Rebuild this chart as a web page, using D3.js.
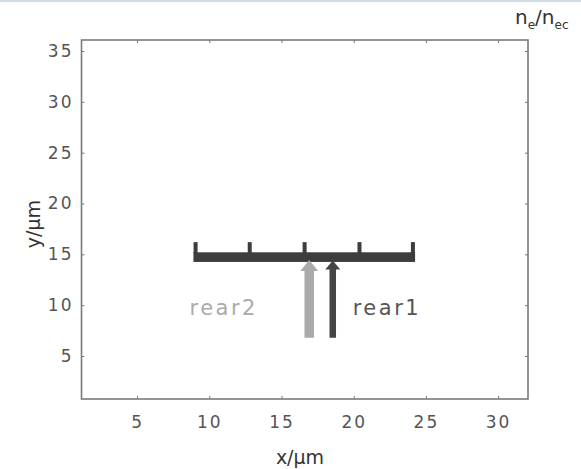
<!DOCTYPE html>
<html>
<head>
<meta charset="utf-8">
<script src="https://cdn.jsdelivr.net/npm/d3@7"></script>
<style>
  body { margin: 0; background: #fff; }
  text { font-family: "DejaVu Sans", sans-serif; }
</style>
</head>
<body>
<div id="chart"></div>
<script>
// Data
var xTicks = [5, 10, 15, 20, 25, 30];
var yTicks = [5, 10, 15, 20, 25, 30, 35];
var xDomain = [1.15, 32.07];
var yDomain = [0.77, 36.08];

// T-shaped target: horizontal bar plus small posts on top
var targetPosts = [9.05, 12.8, 16.6, 20.4, 24.1];
var targetBarX = [8.9, 24.25];
var targetBarY = [14.25, 15.2];
var targetPostTop = 16.2;

// incoming arrows
var rearNames = ["rear2", "rear1"];
var rearX = [16.92, 18.55];
var rearY0 = [6.8, 6.8];
var rearY1 = [14.45, 14.4];
var rearLabelX = [11.0, 22.3];
var rearLabelY = [9.8, 9.8];

var svgWidth = 581;
var svgHeight = 469;
var margin = { top: 40, right: 53, bottom: 70, left: 81.5 };
var width = svgWidth - margin.left - margin.right;
var height = svgHeight - margin.top - margin.bottom;

var svg = d3.select("#chart").append("svg")
  .attr("width", svgWidth)
  .attr("height", svgHeight);

// thin blue strip at top of the figure
svg.append("rect")
  .attr("x", 0).attr("y", 0)
  .attr("width", svgWidth).attr("height", 2)
  .attr("fill", "#c9dcea");

var chartGroup = svg.append("g")
  .attr("transform", `translate(${margin.left}, ${margin.top})`);

var x = d3.scaleLinear().domain(xDomain).range([0, width]);
var y = d3.scaleLinear().domain(yDomain).range([height, 0]);

// axes, ticks pointing inwards on all four sides
var axisColor = "#7a7a7a";
var labelColor = "#555555";

function styleAxis(g) {
  g.select(".domain").remove();
  g.selectAll(".tick line").attr("stroke", axisColor).attr("stroke-width", 1);
  g.selectAll(".tick text")
    .attr("fill", labelColor)
    .attr("font-size", "17px")
    .attr("letter-spacing", "2px");
}

chartGroup.append("g")
  .attr("transform", `translate(0, ${height})`)
  .call(d3.axisBottom(x).tickValues(xTicks).tickSizeInner(-3).tickSizeOuter(0).tickPadding(17))
  .call(styleAxis);

chartGroup.append("g")
  .call(d3.axisLeft(y).tickValues(yTicks).tickSizeInner(-3).tickSizeOuter(0).tickPadding(8))
  .call(styleAxis);

chartGroup.append("g")
  .call(d3.axisTop(x).tickValues(xTicks).tickSizeInner(-3).tickSizeOuter(0).tickFormat(""))
  .call(styleAxis);

chartGroup.append("g")
  .attr("transform", `translate(${width}, 0)`)
  .call(d3.axisRight(y).tickValues(yTicks).tickSizeInner(-3).tickSizeOuter(0).tickFormat(""))
  .call(styleAxis);

chartGroup.append("rect")
  .attr("x", 0).attr("y", 0)
  .attr("width", width).attr("height", height)
  .attr("fill", "none")
  .attr("stroke", axisColor)
  .attr("stroke-width", 1.6);

// target bar
var targetColor = "#3d3d3d";
chartGroup.append("rect")
  .attr("x", x(targetBarX[0]))
  .attr("y", y(targetBarY[1]))
  .attr("width", x(targetBarX[1]) - x(targetBarX[0]))
  .attr("height", y(targetBarY[0]) - y(targetBarY[1]))
  .attr("fill", targetColor);

chartGroup.selectAll(".post")
  .data(targetPosts)
  .enter()
  .append("rect")
  .attr("class", "post")
  .attr("x", d => x(d) - 2)
  .attr("y", y(targetPostTop))
  .attr("width", 4)
  .attr("height", y(targetBarY[1]) - y(targetPostTop) + 1)
  .attr("fill", targetColor);

// arrows
var arrowColors = ["#ababab", "#444444"];
var shaftW = [9.5, 6.5];
var headW = [18, 15];
var headH = [11, 9];

rearNames.forEach(function (name, i) {
  var cx = x(rearX[i]);
  var yb = y(rearY0[i]);
  var yt = y(rearY1[i]);
  var s = shaftW[i] / 2;
  var h = headW[i] / 2;
  var pts = [
    [cx - s, yb], [cx - s, yt + headH[i]], [cx - h, yt + headH[i]],
    [cx, yt], [cx + h, yt + headH[i]], [cx + s, yt + headH[i]], [cx + s, yb]
  ];
  chartGroup.append("path")
    .attr("d", d3.line()(pts) + "Z")
    .attr("fill", arrowColors[i]);

  chartGroup.append("text")
    .attr("x", x(rearLabelX[i]))
    .attr("y", y(rearLabelY[i]))
    .attr("dy", "0.36em")
    .attr("text-anchor", "middle")
    .attr("font-size", "21px")
    .attr("letter-spacing", "2.5px")
    .attr("fill", i === 0 ? "#aaaaaa" : "#555555")
    .text(name);
});

// axis labels
svg.append("text")
  .attr("x", 300)
  .attr("y", 464)
  .attr("text-anchor", "middle")
  .attr("font-size", "19px")
  .attr("fill", "#333")
  .text("x/\u03bcm");

svg.append("text")
  .attr("transform", "translate(40, 224) rotate(-90)")
  .attr("text-anchor", "middle")
  .attr("font-size", "19px")
  .attr("fill", "#333")
  .text("y/\u03bcm");

// colourbar title (top right)
var title = svg.append("text")
  .attr("x", 515)
  .attr("y", 24)
  .attr("font-size", "20px")
  .attr("fill", "#333");
title.append("tspan").text("n");
title.append("tspan").attr("dy", 5).attr("font-size", "12px").text("e");
title.append("tspan").attr("dy", -5).text("/n");
title.append("tspan").attr("dy", 5).attr("font-size", "12px").text("ec");
</script>
</body>
</html>
